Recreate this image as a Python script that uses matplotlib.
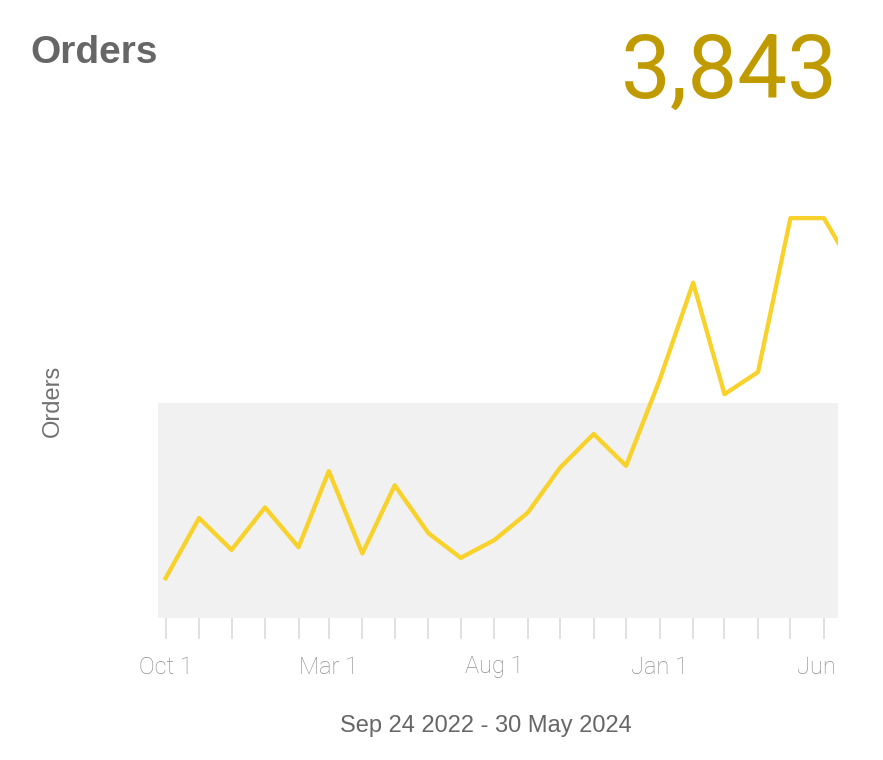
import numpy as np
import matplotlib
matplotlib.use("Agg")
import matplotlib.pyplot as plt
import matplotlib.dates as mdates
import matplotlib.transforms as mtransforms
from datetime import datetime

# monthly orders (the last point runs past the visible range)
months = ["2022-10-01", "2022-11-01", "2022-12-01", "2023-01-01", "2023-02-01",
          "2023-03-01", "2023-04-01", "2023-05-01", "2023-06-01", "2023-07-01",
          "2023-08-01", "2023-09-01", "2023-10-01", "2023-11-01", "2023-12-01",
          "2024-01-01", "2024-02-01", "2024-03-01", "2024-04-01", "2024-05-01",
          "2024-06-01", "2024-07-01"]
orders = [45, 113, 77, 125, 80, 166, 73, 150, 96, 68,
          88, 119, 170, 208, 172, 269, 379, 253, 278, 452,
          452, 389]
band_top = 243
total = "3,843"
tick_labels = ["Oct 1", "Mar 1", "Aug 1", "Jan 1", "Jun"]
date_range = "Sep 24 2022 - 30 May 2024"

x = [datetime.strptime(m, "%Y-%m-%d") for m in months]

fig = plt.figure(figsize=(8.83, 7.6), dpi=100)
ax = fig.add_axes([158/883, 1-618/760, 680/883, 468/760])

ax.axhspan(0, band_top, color="#f0f1f0", zorder=0, lw=0)
ax.plot(x, orders, color="#f8d22b", lw=3.1, solid_joinstyle="round", zorder=2)

ax.set_xlim(datetime(2022, 9, 24), datetime(2024, 6, 14))
ax.set_ylim(0, 529)
for s in ax.spines.values():
    s.set_visible(False)
ax.set_yticks([])

ax.xaxis.set_minor_locator(mdates.MonthLocator())
ax.set_xticks([datetime(2022, 10, 1), datetime(2023, 3, 1), datetime(2023, 8, 1),
               datetime(2024, 1, 1), datetime(2024, 6, 1)])
ax.set_xticklabels(tick_labels)
ax.tick_params(axis="x", which="both", direction="out", length=15, width=1.2,
               color="#dcdcdc", pad=12)
ax.tick_params(axis="x", labelsize=17, labelcolor="#8e8e8e")
for t in ax.get_xticklabels():
    t.set_family(["Roboto", "DejaVu Sans"])
    t.set_fontweight("light")
# last label sits a little left of its tick
last = ax.get_xticklabels()[-1]
last.set_transform(last.get_transform() +
                   mtransforms.ScaledTranslation(-8/100, 0, fig.dpi_scale_trans))

fig.text(30/883, 1-63/760, "Orders", fontsize=28, fontweight="bold",
         color="#666666", family=["Liberation Sans", "DejaVu Sans"], va="baseline")
fig.text(838/883, 1-98/760, total, fontsize=64, color="#c09b00",
         family=["Roboto", "DejaVu Sans"], ha="right", va="baseline")
fig.text(53/883, 1-401/760, "Orders", fontsize=17, color="#707070", rotation=90,
         family=["Liberation Sans", "DejaVu Sans"], ha="center", va="center")
fig.text(486/883, 1-732/760, date_range, fontsize=17, color="#666666",
         family=["Liberation Sans", "DejaVu Sans"], ha="center", va="baseline")

fig.savefig("out.png", dpi=100)
